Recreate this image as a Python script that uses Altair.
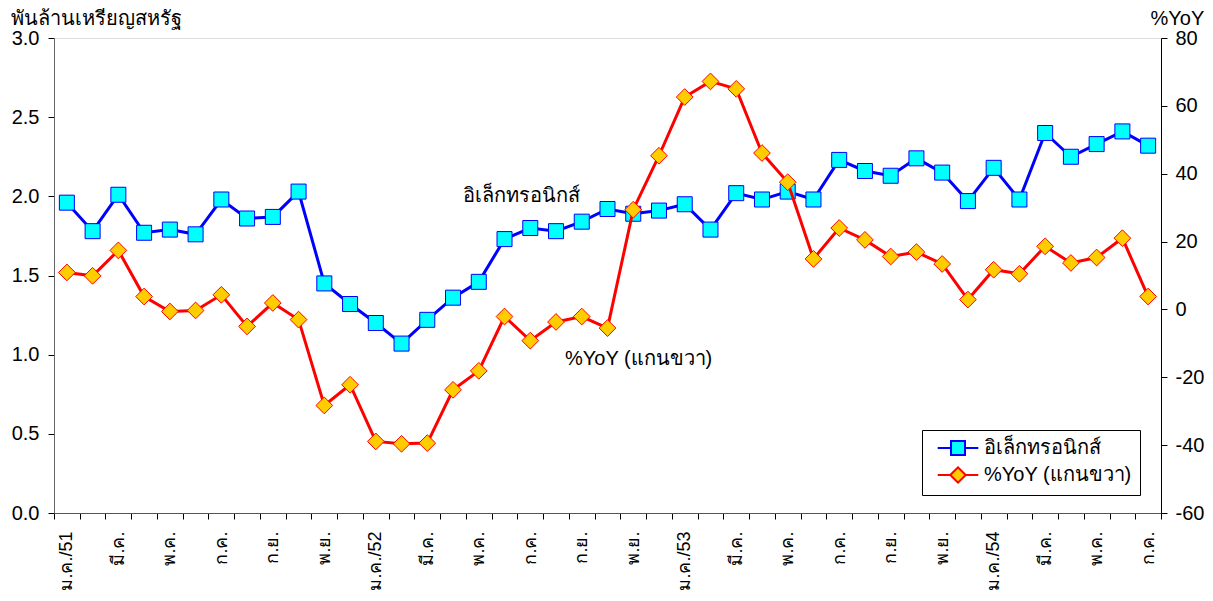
import altair as alt
import pandas as pd
import json

FONT = "Tahoma, 'Liberation Sans', Arial, sans-serif"

# Months Jan 2008 (ม.ค./51) .. Jul 2011 (ก.ค./54)
months = ["ม.ค./51", "ก.พ.", "มี.ค.", "เม.ย.", "พ.ค.", "มิ.ย.", "ก.ค.", "ส.ค.", "ก.ย.", "ต.ค.", "พ.ย.", "ธ.ค.",
          "ม.ค./52", "ก.พ.", "มี.ค.", "เม.ย.", "พ.ค.", "มิ.ย.", "ก.ค.", "ส.ค.", "ก.ย.", "ต.ค.", "พ.ย.", "ธ.ค.",
          "ม.ค./53", "ก.พ.", "มี.ค.", "เม.ย.", "พ.ค.", "มิ.ย.", "ก.ค.", "ส.ค.", "ก.ย.", "ต.ค.", "พ.ย.", "ธ.ค.",
          "ม.ค./54", "ก.พ.", "มี.ค.", "เม.ย.", "พ.ค.", "มิ.ย.", "ก.ค."]
tick_labels = [m if i % 2 == 0 else "" for i, m in enumerate(months)]

# Electronics exports, billion USD (left axis)
electronics = [1.96, 1.78, 2.01, 1.77, 1.79, 1.76, 1.98, 1.86, 1.87, 2.03, 1.45, 1.32,
               1.20, 1.07, 1.22, 1.36, 1.46, 1.73, 1.80, 1.78, 1.84, 1.92, 1.89, 1.91,
               1.95, 1.79, 2.02, 1.98, 2.03, 1.98, 2.23, 2.16, 2.13, 2.24, 2.15, 1.97,
               2.18, 1.98, 2.40, 2.25, 2.33, 2.41, 2.32]
# %YoY (right axis)
yoy = [10.9, 9.9, 17.4, 3.8, -0.6, -0.3, 4.3, -5.0, 1.9, -3.0, -28.3, -22.2,
       -38.9, -39.6, -39.4, -23.7, -18.1, -2.1, -9.2, -3.7, -2.1, -5.5, 29.4, 45.3,
       62.6, 67.2, 65.0, 46.1, 37.5, 14.9, 24.0, 20.5, 15.6, 16.9, 13.4, 2.9,
       11.7, 10.5, 18.6, 13.7, 15.3, 21.0, 3.8]

series_names = ["อิเล็กทรอนิกส์", "%YoY (แกนขวา)"]
line_colors = ["#0000FF", "#FF0000"]
fill_colors = ["#00FFFF", "#FFCC00"]
legend_shapes = ["M-2.9,0H-1.05M1.05,0H2.9M-1,-1H1V1H-1Z",
                 "M-2.9,0H-1.15M1.15,0H2.9M-1.1,0L0,-1.1L1.1,0L0,1.1Z"]

ann_left = pd.DataFrame({"idx": [15], "value": [2.0], "text": [series_names[0]]})
ann_right = pd.DataFrame({"idx": [19], "value": [-14.5], "text": [series_names[1]]})

df = pd.DataFrame({"idx": list(range(len(months))), "electronics": electronics, "yoy": yoy})

x_enc = alt.X("idx:O", title=None,
              scale=alt.Scale(type="band", paddingInner=0, paddingOuter=0),
              axis=alt.Axis(labelExpr=json.dumps(tick_labels, ensure_ascii=False) + "[datum.value]",
                            labelAngle=-90, tickBand="extent", tickSize=6, labelPadding=12,
                            labelFontSize=18, labelFont=FONT, labelColor="black",
                            domainColor="#555555", tickColor="black", grid=False))

y_left = alt.Y("electronics:Q", title="พันล้านเหรียญสหรัฐ",
               scale=alt.Scale(domain=[0, 3]),
               axis=alt.Axis(values=[0, 0.5, 1.0, 1.5, 2.0, 2.5, 3.0], format=".1f",
                             tickSize=6, labelPadding=9, labelFontSize=20, labelFont=FONT,
                             labelColor="black", domainColor="#666666", tickColor="black",
                             grid=False, titleAngle=0, titleAlign="left", titleX=-44, titleY=-14,
                             titleBaseline="alphabetic", titleFontSize=20, titleFont=FONT,
                             titleFontWeight="normal", titleColor="black"))

y_right = alt.Y("yoy:Q", title="%YoY",
                scale=alt.Scale(domain=[-60, 80]),
                axis=alt.Axis(orient="right", values=list(range(-60, 81, 20)),
                              labelExpr="'' + datum.value",
                              tickSize=6, labelPadding=8, labelFontSize=20, labelFont=FONT,
                              labelColor="black", domainColor="black", tickColor="black",
                              grid=False, titleAngle=0, titleAlign="left", titleX=-11, titleY=-14,
                              titleBaseline="alphabetic", titleFontSize=20, titleFont=FONT,
                              titleFontWeight="normal", titleColor="black"))

base = alt.Chart(df)

blue_line = base.mark_line(color=line_colors[0], strokeWidth=3).encode(x=x_enc, y=y_left)
blue_pts = base.mark_point(shape="square", filled=True, fill=fill_colors[0], stroke=line_colors[0],
                           strokeWidth=1, size=225, opacity=1).encode(x=x_enc, y=y_left)

legend = alt.Legend(title=None, orient="none", legendX=868, legendY=392, direction="vertical",
                    strokeColor="black", fillColor="white", padding=8, symbolSize=196,
                    symbolStrokeWidth=2, symbolOffset=18, labelFontSize=20, labelFont=FONT,
                    labelColor="black", labelOffset=16, rowPadding=4, symbolOpacity=1,
                    cornerRadius=0)

legend_dummy = base.transform_calculate(series=f"'{series_names[0]}'").mark_point(
    opacity=0, filled=True, size=1).encode(
    x=x_enc, y=y_left,
    fill=alt.Fill("series:N", scale=alt.Scale(domain=series_names, range=fill_colors), legend=legend),
    stroke=alt.Stroke("series:N", scale=alt.Scale(domain=series_names, range=line_colors), legend=legend),
    shape=alt.Shape("series:N", scale=alt.Scale(domain=series_names, range=legend_shapes), legend=legend),
)

text_left = alt.Chart(ann_left).mark_text(align="left", baseline="middle", fontSize=20, font=FONT,
                                          color="black", dx=10).encode(
    x=alt.X("idx:O"), y=alt.Y("value:Q"), text="text:N")

left = alt.layer(blue_line, blue_pts, legend_dummy, text_left)

red_line = base.mark_line(color=line_colors[1], strokeWidth=3).encode(x=x_enc, y=y_right)
red_pts = base.mark_point(shape="diamond", filled=True, fill=fill_colors[1], stroke=line_colors[1],
                          strokeWidth=1, size=280, opacity=1).encode(x=x_enc, y=y_right)
text_right = alt.Chart(ann_right).mark_text(align="left", baseline="middle", fontSize=20, font=FONT,
                                            color="black", dx=9).encode(
    x=alt.X("idx:O"), y=alt.Y("value:Q"), text="text:N")

right = alt.layer(red_line, red_pts, text_right)

chart = alt.layer(left, right).resolve_scale(y="independent").properties(
    width=1107, height=475, autosize="none",
    padding={"left": 46, "top": 30, "right": 44, "bottom": 80},
).configure_view(stroke="transparent").configure(font=FONT)

chart.save("out.html", embed_options={"renderer": "svg", "actions": False})
